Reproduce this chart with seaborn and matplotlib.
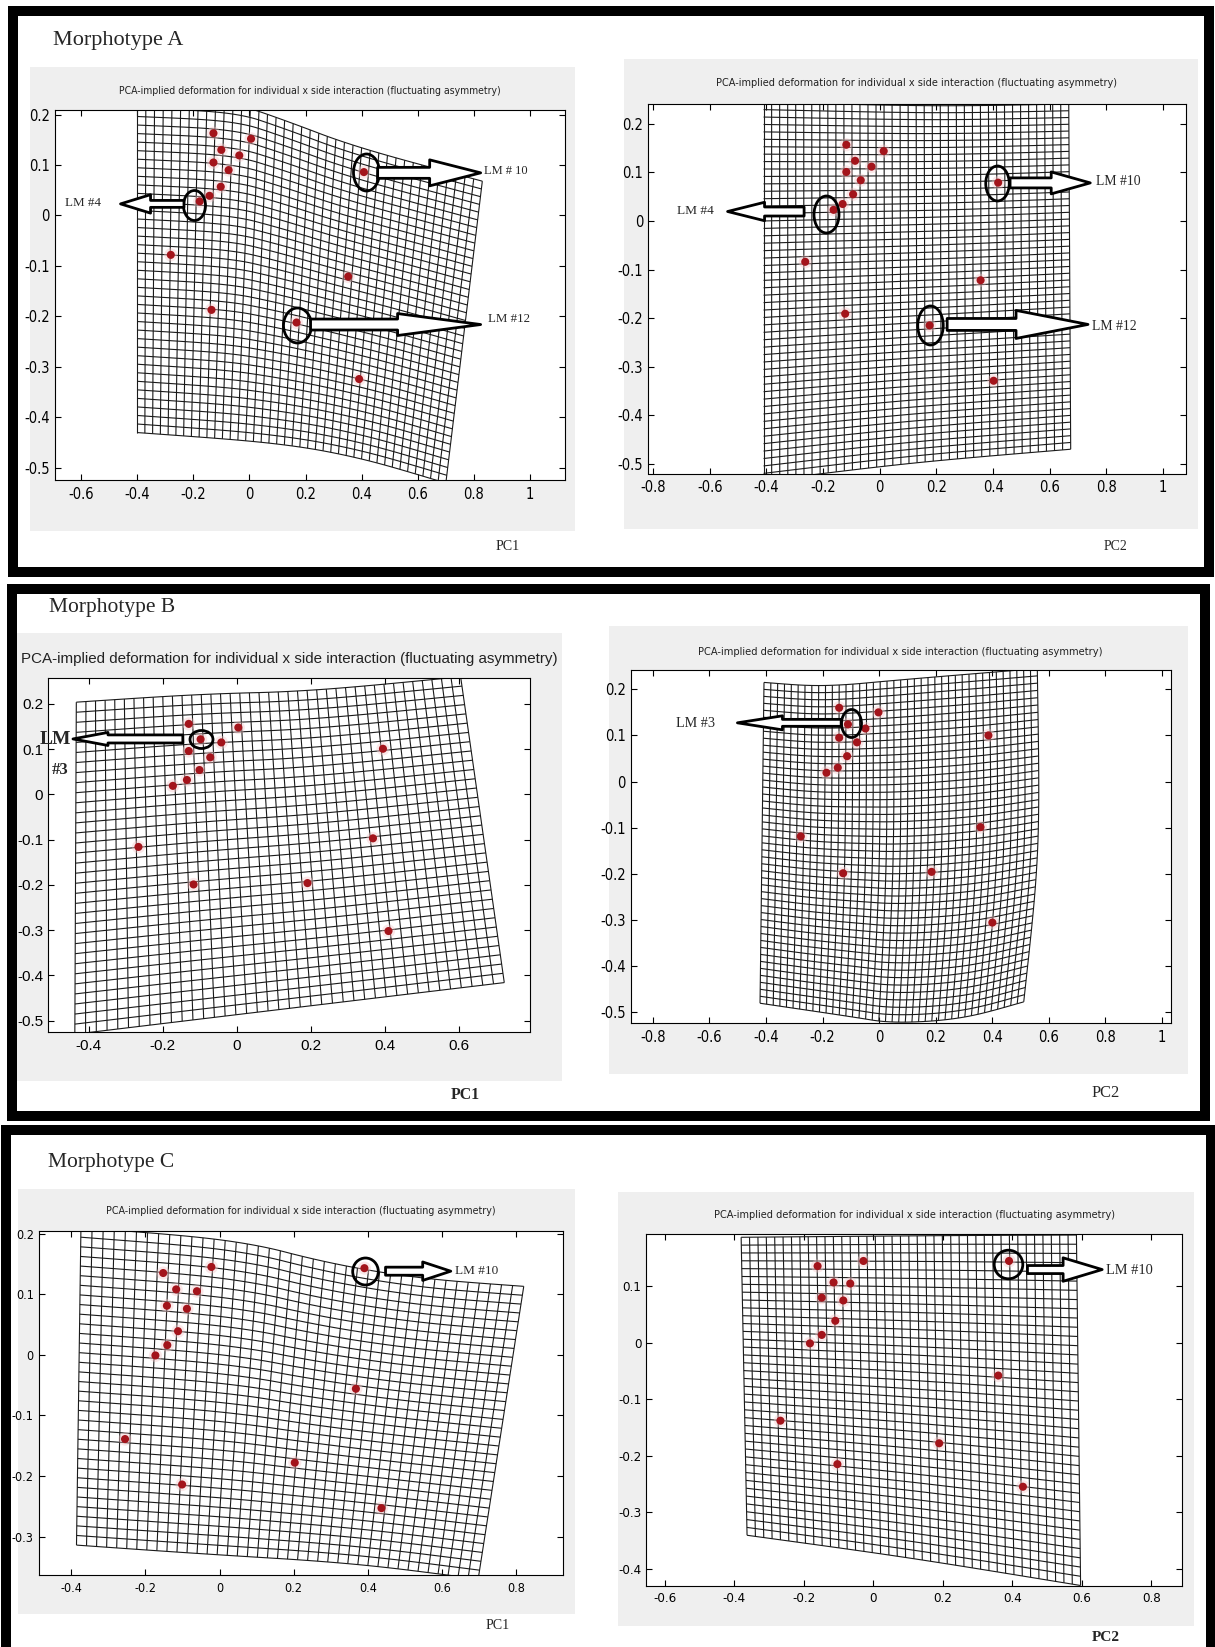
import os
import numpy as np
import matplotlib
matplotlib.use("Agg")
import matplotlib.pyplot as plt
import seaborn as sns
from matplotlib import font_manager
from matplotlib.font_manager import FontProperties
from matplotlib.collections import LineCollection
from matplotlib.patches import Rectangle
from matplotlib.path import Path
from matplotlib.transforms import Affine2D

W, H = 1215, 1647
TITLE = "PCA-implied deformation for individual x side interaction (fluctuating asymmetry)"
MORPHOTYPES = ["Morphotype A", "Morphotype B", "Morphotype C"]

# landmark coordinates (15 landmarks)
A1_X = [-0.128, 0.006, -0.100, -0.128, -0.036, -0.074, -0.102, -0.142, -0.177, 0.408, -0.280, 0.352, -0.135, 0.168, 0.391]
A1_Y = [0.163, 0.152, 0.130, 0.105, 0.119, 0.090, 0.057, 0.039, 0.028, 0.086, -0.078, -0.121, -0.187, -0.212, -0.324]
A2_X = [-0.118, 0.014, -0.087, -0.118, -0.029, -0.067, -0.094, -0.131, -0.163, 0.418, -0.263, 0.356, -0.122, 0.176, 0.402]
A2_Y = [0.157, 0.144, 0.124, 0.101, 0.112, 0.084, 0.055, 0.035, 0.023, 0.079, -0.084, -0.122, -0.191, -0.215, -0.329]
B1_X = [-0.130, 0.004, -0.098, -0.130, -0.042, -0.072, -0.101, -0.135, -0.173, 0.395, -0.266, 0.368, -0.117, 0.191, 0.410]
B1_Y = [0.156, 0.148, 0.122, 0.096, 0.115, 0.082, 0.054, 0.032, 0.019, 0.101, -0.116, -0.097, -0.199, -0.196, -0.302]
B2_X = [-0.141, -0.002, -0.110, -0.141, -0.048, -0.078, -0.113, -0.146, -0.186, 0.387, -0.277, 0.359, -0.127, 0.186, 0.401]
B2_Y = [0.160, 0.150, 0.124, 0.095, 0.115, 0.085, 0.055, 0.030, 0.019, 0.100, -0.119, -0.099, -0.199, -0.196, -0.306]
C1_X = [-0.152, -0.022, -0.117, -0.061, -0.142, -0.088, -0.112, -0.141, -0.173, 0.391, -0.255, 0.368, -0.101, 0.203, 0.437]
C1_Y = [0.135, 0.145, 0.108, 0.105, 0.081, 0.076, 0.039, 0.016, -0.001, 0.143, -0.139, -0.056, -0.214, -0.178, -0.253]
C2_X = [-0.160, -0.028, -0.114, -0.066, -0.148, -0.086, -0.109, -0.148, -0.182, 0.391, -0.267, 0.360, -0.103, 0.190, 0.431]
C2_Y = [0.136, 0.145, 0.107, 0.105, 0.080, 0.075, 0.039, 0.014, -0.001, 0.145, -0.138, -0.058, -0.215, -0.178, -0.255]

# outline of each deformation grid (edges run left -> right)
A1_TOP = [(-0.40, 0.23), (-0.05, 0.222), (0.12, 0.19), (0.38, 0.135), (0.83, 0.068)]
A1_BOTTOM = [(-0.40, -0.43), (0.10, -0.45), (0.40, -0.48), (0.70, -0.53)]
A2_TOP = [(-0.41, 0.26), (0.2, 0.25), (0.667, 0.255)]
A2_BOTTOM = [(-0.41, -0.535), (0.12, -0.497), (0.674, -0.47)]
B1_TOP = [(-0.434, 0.204), (-0.1, 0.222), (0.2, 0.228), (0.605, 0.26)]
B1_BOTTOM = [(-0.438, -0.53), (0.1, -0.477), (0.723, -0.416)]
B2_TOP = [(-0.407, 0.215), (-0.2, 0.205), (0.1, 0.222), (0.56, 0.245)]
B2_BOTTOM = [(-0.421, -0.481), (-0.1, -0.51), (0.05, -0.525), (0.3, -0.515), (0.512, -0.478)]
B2_RIGHT = [(0.512, -0.478), (0.57, -0.15), (0.56, 0.245)]
C1_TOP = [(-0.374, 0.21), (0.05, 0.19), (0.3, 0.15), (0.55, 0.125), (0.821, 0.113)]
C1_BOTTOM = [(-0.386, -0.314), (-0.06, -0.328), (0.37, -0.344), (0.698, -0.37)]
C2_TOP = [(-0.38, 0.187), (0.2, 0.19), (0.585, 0.191)]
C2_BOTTOM = [(-0.363, -0.341), (0.1, -0.38), (0.597, -0.43)]

# tick values
XT_A1 = [-0.6, -0.4, -0.2, 0, 0.2, 0.4, 0.6, 0.8, 1]
XT_08 = [-0.8, -0.6, -0.4, -0.2, 0, 0.2, 0.4, 0.6, 0.8, 1]
XT_B1 = [-0.4, -0.2, 0, 0.2, 0.4, 0.6]
XT_C1 = [-0.4, -0.2, 0, 0.2, 0.4, 0.6, 0.8]
XT_C2 = [-0.6, -0.4, -0.2, 0, 0.2, 0.4, 0.6, 0.8]
YT_AB = [-0.5, -0.4, -0.3, -0.2, -0.1, 0, 0.1, 0.2]
YT_C1 = [-0.3, -0.2, -0.1, 0, 0.1, 0.2]
YT_C2 = [-0.4, -0.3, -0.2, -0.1, 0, 0.1]

RED = "#a3141b"
BG = "#efefef"

sns.set_style("ticks", rc={"xtick.direction": "in", "ytick.direction": "in",
                           "axes.edgecolor": "black", "axes.linewidth": 0.8})
plt.rcParams["font.family"] = ["Liberation Sans", "DejaVu Sans"]
SERIF = "Liberation Serif"


def pick_condensed():
    # the original uses a narrow sans (Arial Narrow look); take any installed condensed face
    prefs = ["liberationsansnarrow-regular", "dejavusanscondensed.", "notosans-condensed.",
             "notosans-condensedregular", "robotocondensed-regular", "opensans-condensed"]
    files = {os.path.basename(f.fname).lower(): f.fname for f in font_manager.fontManager.ttflist}
    for pref in prefs:
        for b, path in sorted(files.items()):
            if b.startswith(pref):
                return path
    return None


NARROW_FILE = pick_condensed()


def narrow(size):
    if NARROW_FILE:
        return FontProperties(fname=NARROW_FILE, size=size)
    return FontProperties(family="Liberation Sans", size=size * 0.85)


def regular(size):
    return FontProperties(family="Liberation Sans", size=size)


def lm(text, cx, cy, cw, ch, x0, x1, y, hw, hl, tw, tx, ty, wpx):
    return dict(text=text, cx=cx, cy=cy, cw=cw, ch=ch, x0=x0, x1=x1, y=y,
                hw=hw, hl=hl, tw=tw, tx=tx, ty=ty, wpx=wpx)


PANELS = [
    dict(ax=(54.6, 110, 565.4, 480), bg=(29.7, 66.6, 575, 531), ty=90.6, tw=380, tfont=narrow,
         xlim=(-0.694, 1.126), ylim=(-0.524, 0.209), xt=XT_A1, yt=YT_AB, tfs=10.5, ticfont=narrow,
         lx=A1_X, ly=A1_Y, top=A1_TOP, bottom=A1_BOTTOM, right=None, ncol=40, nrow=39,
         pc=("PC1", 508, 547, 24, "normal"),
         marks=[lm("LM #4", -0.198, 0.020, 22, 30, -0.233, -0.459, 0.023, 18.5, 30, 7, -0.657, 0.024, 36),
                lm("LM # 10", 0.415, 0.0865, 26, 37, 0.457, 0.824, 0.0845, 26, 51, 11, 0.837, 0.088, 44),
                lm("LM #12", 0.171, -0.216, 28, 35, 0.218, 0.824, -0.216, 22, 83, 11, 0.851, -0.205, 42)]),
    dict(ax=(648, 104, 1186, 473.5), bg=(624, 59, 1198, 529), ty=83, tw=398, tfont=narrow,
         xlim=(-0.818, 1.081), ylim=(-0.52, 0.241), xt=XT_08, yt=YT_AB, tfs=10.5, ticfont=narrow,
         lx=A2_X, ly=A2_Y, top=A2_TOP, bottom=A2_BOTTOM, right=None, ncol=38, nrow=52,
         pc=("PC2", 1115.7, 547, 23.5, "normal"),
         marks=[lm("LM #4", -0.191, 0.0137, 25, 37, -0.267, -0.537, 0.0196, 18.5, 37, 9, -0.717, 0.021, 37),
                lm("LM #10", 0.414, 0.0785, 23.5, 35, 0.460, 0.743, 0.0785, 22, 39, 10, 0.764, 0.081, 45),
                lm("LM #12", 0.176, -0.215, 25.5, 39, 0.238, 0.735, -0.213, 28, 72, 12, 0.750, -0.218, 45)]),
    dict(ax=(48.2, 678.2, 529.8, 1031.9), bg=(15.8, 633, 561.5, 1081), ty=659, tw=538, tfont=regular,
         xlim=(-0.510, 0.792), ylim=(-0.525, 0.257), xt=XT_B1, yt=YT_AB, tfs=11, ticfont=regular,
         lx=B1_X, ly=B1_Y, top=B1_TOP, bottom=B1_BOTTOM, right=None, ncol=40, nrow=33,
         pc=("PC1", 465.5, 1095, 29, "bold"),
         marks=[lm(None, -0.097, 0.1216, 23, 18, -0.146, -0.443, 0.1227, 13, 35, 8, 0, 0, 0)]),
    dict(ax=(630.6, 669.5, 1170.7, 1022.6), bg=(608.6, 626.5, 1188, 1074), ty=652, tw=402, tfont=narrow,
         xlim=(-0.879, 1.032), ylim=(-0.523, 0.243), xt=XT_08, yt=YT_AB, tfs=10.5, ticfont=narrow,
         lx=B2_X, ly=B2_Y, top=B2_TOP, bottom=B2_BOTTOM, right=B2_RIGHT, ncol=40, nrow=46,
         pc=("PC2", 1106, 1093, 28, "normal"),
         marks=[lm("LM #3", -0.099, 0.1273, 20, 28, -0.134, -0.501, 0.1273, 14, 45, 7, -0.717, 0.125, 39)]),
    dict(ax=(38.7, 1230.9, 563.4, 1575.4), bg=(17.8, 1188.9, 575.3, 1614), ty=1211.4, tw=389, tfont=narrow,
         xlim=(-0.488, 0.928), ylim=(-0.364, 0.2045), xt=XT_C1, yt=YT_C1, tfs=9, ticfont=narrow,
         lx=C1_X, ly=C1_Y, top=C1_TOP, bottom=C1_BOTTOM, right=None, ncol=40, nrow=33,
         pc=("PC1", 498, 1625.8, 24, "normal"),
         marks=[lm("LM #10", 0.392, 0.138, 25.6, 27, 0.448, 0.624, 0.138, 18.5, 28, 8, 0.635, 0.138, 43)]),
    dict(ax=(646.3, 1233.6, 1182.4, 1585.5), bg=(617.6, 1192.3, 1194, 1625.8), ty=1214.8, tw=398, tfont=narrow,
         xlim=(-0.653, 0.890), ylim=(-0.430, 0.1935), xt=XT_C2, yt=YT_C2, tfs=9.5, ticfont=narrow,
         lx=C2_X, ly=C2_Y, top=C2_TOP, bottom=C2_BOTTOM, right=None, ncol=40, nrow=38,
         pc=("PC2", 1106, 1637.6, 28, "bold"),
         marks=[lm("LM #10", 0.389, 0.140, 28.6, 28.6, 0.444, 0.659, 0.1298, 23.5, 39, 8, 0.670, 0.128, 47)]),
]


def px_rect(x0, y0, x1, y1):
    return [x0 / W, 1 - y1 / H, (x1 - x0) / W, (y1 - y0) / H]


def smooth(poly, n=4):
    # corner cutting so the grid outline bends smoothly instead of kinking
    p = np.asarray(poly, float)
    if len(p) < 3:
        return p
    for _ in range(n):
        q = p[:-1] * 0.75 + p[1:] * 0.25
        r = p[:-1] * 0.25 + p[1:] * 0.75
        mid = np.empty((2 * len(q), 2))
        mid[0::2] = q
        mid[1::2] = r
        p = np.vstack([p[0], mid[1:-1], p[-1]])
    return p


def along(poly, t):
    seg = np.hypot(np.diff(poly[:, 0]), np.diff(poly[:, 1]))
    s = np.r_[0, np.cumsum(seg)] / seg.sum()
    return np.interp(t, s, poly[:, 0]), np.interp(t, s, poly[:, 1])


def draw_grid(ax, top, bottom, ncol, nrow, right=None):
    top = smooth(top)
    bottom = smooth(bottom)
    left = np.array([bottom[0], top[0]])
    right = np.array([bottom[-1], top[-1]]) if right is None else smooth(right)
    c00, c10, c01, c11 = bottom[0], bottom[-1], top[0], top[-1]

    def patch(u, v):
        tx, ty = along(top, u)
        bx, by = along(bottom, u)
        lx, ly = along(left, v)
        rx, ry = along(right, v)
        out = []
        for k, (t_, b_, l_, r_) in enumerate([(tx, bx, lx, rx), (ty, by, ly, ry)]):
            corner = ((1 - u) * (1 - v) * c00[k] + u * (1 - v) * c10[k]
                      + (1 - u) * v * c01[k] + u * v * c11[k])
            out.append((1 - v) * b_ + v * t_ + (1 - u) * l_ + u * r_ - corner)
        return np.c_[out[0], out[1]]

    dense = np.linspace(0, 1, 150)
    segs = []
    for u in np.linspace(0, 1, ncol + 1):
        segs.append(patch(np.full_like(dense, u), dense))
    for v in np.linspace(0, 1, nrow + 1):
        segs.append(patch(dense, np.full_like(dense, v)))
    ax.add_collection(LineCollection(segs, colors="#1a1a1a", linewidths=0.8, zorder=2))


def ellipse(w, h):
    return Path.unit_circle().transformed(Affine2D().scale(w, h))


fig = plt.figure(figsize=(W / 100, H / 100), dpi=100)
fits = []

for p in PANELS:
    x0, y0, x1, y1 = p["bg"]
    fig.add_artist(Rectangle((x0 / W, 1 - y1 / H), (x1 - x0) / W, (y1 - y0) / H,
                             transform=fig.transFigure, fc=BG, ec="none", zorder=-1))
    ax = fig.add_axes(px_rect(*p["ax"]))
    ax.set_facecolor("white")
    draw_grid(ax, p["top"], p["bottom"], p["ncol"], p["nrow"], p["right"])

    sns.scatterplot(x=p["lx"], y=p["ly"], ax=ax, color="#f4c4c6", s=90, alpha=0.4,
                    edgecolor="none", zorder=4, legend=False)
    sns.scatterplot(x=p["lx"], y=p["ly"], ax=ax, color=RED, s=34, marker="o",
                    edgecolor="none", zorder=5, legend=False)

    ax.set_xlim(*p["xlim"])
    ax.set_ylim(*p["ylim"])
    ax.set_xticks(p["xt"])
    ax.set_xticklabels([f"{v:g}" for v in p["xt"]], fontproperties=p["ticfont"](p["tfs"]))
    ax.set_yticks(p["yt"])
    ax.set_yticklabels([f"{v:g}" for v in p["yt"]], fontproperties=p["ticfont"](p["tfs"]))
    ax.tick_params(direction="in", top=True, right=True, length=4, width=0.8,
                   pad=5, colors="black")
    ax.tick_params(axis="y", pad=3.5)
    for s in ax.spines.values():
        s.set_color("black")
        s.set_linewidth(0.8)
    ax.set_xlabel("")
    ax.set_ylabel("")

    for m in p["marks"]:
        ax.plot([m["cx"]], [m["cy"]], marker=ellipse(m["cw"], m["ch"]),
                ms=max(m["cw"], m["ch"]) / 1.389, mfc="none", mec="black", mew=2.0,
                ls="none", zorder=7)
        ms_px = 13.89
        style = (f"simple,head_length={m['hl'] / ms_px:.2f},"
                 f"head_width={m['hw'] / ms_px:.2f},tail_width={m['tw'] / ms_px:.2f}")
        ax.annotate("", xy=(m["x1"], m["y"]), xytext=(m["x0"], m["y"]),
                    arrowprops=dict(arrowstyle=style, fc="white", ec="black", lw=2.0,
                                    shrinkA=0, shrinkB=0, mutation_scale=10),
                    annotation_clip=False, zorder=8)
        if m["text"]:
            t = ax.text(m["tx"], m["ty"], m["text"], ha="left", va="center",
                        family=SERIF, fontsize=11, zorder=9)
            fits.append((t, m["wpx"]))

    cx = (p["ax"][0] + p["ax"][2]) / 2
    t = fig.text(cx / W, 1 - p["ty"] / H, TITLE, ha="center", va="center",
                 fontproperties=p["tfont"](9), color="#222222")
    fits.append((t, p["tw"]))

    name, px, py, pw, weight = p["pc"]
    t = fig.text(px / W, 1 - py / H, name, ha="center", va="center",
                 family=SERIF, fontsize=12, fontweight=weight)
    fits.append((t, pw))

# "LM #3" label of morphotype B, PC1 panel, sits on the axis edge
fig.text(55 / W, 1 - 740 / H, "LM", ha="center", va="center", family=SERIF,
         fontsize=14, fontweight="bold")
fig.text(60 / W, 1 - 770 / H, "#3", ha="center", va="center", family=SERIF,
         fontsize=12, fontweight="bold")

for name, (mx, my, mw) in zip(MORPHOTYPES, [(118.5, 40, 131), (112.5, 607.5, 127), (110.7, 1162, 127)]):
    t = fig.text(mx / W, 1 - my / H, name, ha="center", va="center", family=SERIF, fontsize=14)
    fits.append((t, mw))

# thick frames around each morphotype block
for (x0, y0, x1, y1) in [(13, 11, 1209, 572), (12, 589, 1205, 1116), (6, 1130, 1210.5, 1700)]:
    fig.add_artist(Rectangle((x0 / W, 1 - y1 / H), (x1 - x0) / W, (y1 - y0) / H,
                             transform=fig.transFigure, fill=False, ec="black", lw=7.2,
                             zorder=10, clip_on=False))

renderer = fig.canvas.get_renderer()
for t, wpx in fits:
    w = t.get_window_extent(renderer).width
    if w > 0:
        t.set_fontsize(t.get_fontsize() * wpx / w)

fig.savefig("out.png", dpi=100)
